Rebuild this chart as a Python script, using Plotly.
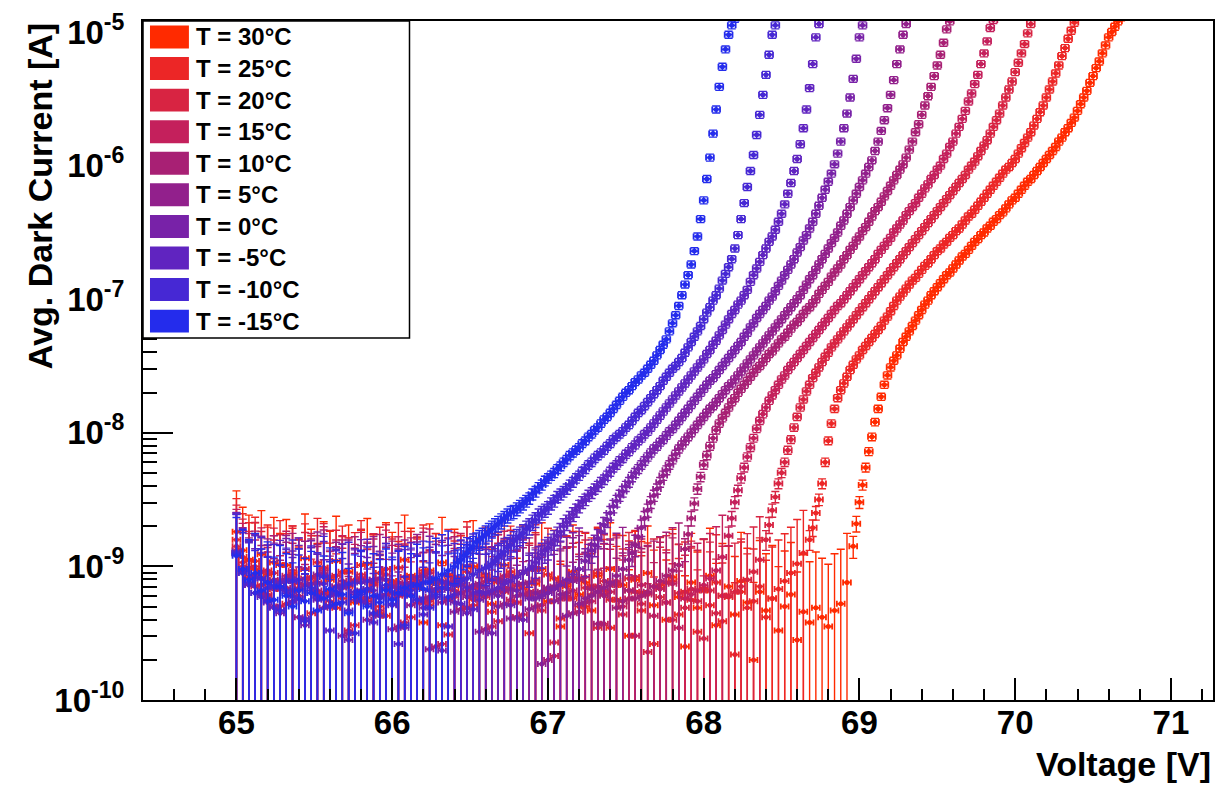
import numpy as np
import plotly.graph_objects as go

# ---------------- data ----------------
LABELS = ["T = 30°C", "T = 25°C", "T = 20°C", "T = 15°C", "T = 10°C",
          "T = 5°C", "T = 0°C", "T = -5°C", "T = -10°C", "T = -15°C"]
COLORS = ["#FF2A00", "#EC2626", "#D82442", "#C4205C", "#A82074",
          "#92208C", "#7822A8", "#6024C0", "#4628D4", "#242CEC"]

V_START = 65.0      # first voltage of every scan [V]
NOISE_STEP = 0.04   # voltage step of the noise-floor values [V]
RISE_STEP = 0.02    # voltage step of the rising values [V]
# voltage where the steady rise (small error bars) begins, per series
RISE_START = [68.96, 68.68, 68.40, 68.16, 67.88, 67.52, 67.24, 66.88, 66.60, 66.40]
NOISE_FLOOR_NA = [0.40, 0.36, 0.33, 0.30, 0.27, 0.24, 0.22, 0.20, 0.18, 0.16]
NOISE_REL_ERR = 0.8
REL_ERR = 0.06
ABS_ERR_RISE_NA = 0.25
X_ERR = 0.025

# log10 of the average dark current [A]
NOISE_T30 = [-8.74, -8.88, -8.95, -9.02, -8.91, -9.06, -8.97, -9.12, -8.99, -9.05,
             -9.18, -8.94, -9.08, -9.22, -9.01, -9.10, -8.96, -9.15, -9.04, -9.27,
             -9.09, -8.98, -9.13, -9.35, -9.02, -9.11, -9.20, -8.95, -9.07, -9.16,
             -9.42, -9.03, -9.12, -8.97, -9.24, -9.08, -9.14, -9.31, -9.00, -9.19,
             -9.06, -9.28, -9.11, -8.99, -9.17, -9.38, -9.05, -9.22, -9.13, -9.02,
             -9.26, -9.09, -9.45, -9.15, -9.04, -9.21, -9.12, -9.33, -9.07, -9.18,
             -9.02, -9.25, -9.14, -9.52, -9.10, -9.20, -9.05, -9.29, -9.16, -9.40,
             -9.08, -9.23, -9.60, -9.12, -9.31, -9.18, -9.07, -9.44, -9.22, -9.15,
             -9.36, -9.11, -9.27, -9.70, -9.19, -9.33, -9.24, -9.48, -9.30, -9.21,
             -9.55, -9.34, -9.42, -9.31, -9.38, -9.45, -9.33, -9.28, -9.12]
RISE_T30 = [-8.85, -8.68, -8.52, -8.39, -8.26, -8.14, -8.03, -7.92, -7.82, -7.73,
            -7.64, -7.57, -7.51, -7.46, -7.42, -7.37, -7.32, -7.28, -7.24, -7.20,
            -7.16, -7.12, -7.08, -7.04, -7.01, -6.97, -6.94, -6.91, -6.88, -6.85,
            -6.82, -6.80, -6.77, -6.74, -6.71, -6.68, -6.66, -6.63, -6.60, -6.57,
            -6.55, -6.52, -6.50, -6.47, -6.45, -6.42, -6.40, -6.37, -6.35, -6.32,
            -6.29, -6.26, -6.24, -6.21, -6.18, -6.15, -6.12, -6.10, -6.07, -6.04,
            -6.01, -5.98, -5.95, -5.92, -5.89, -5.86, -5.82, -5.79, -5.75, -5.72,
            -5.68, -5.64, -5.59, -5.54, -5.49, -5.44, -5.38, -5.33, -5.27, -5.22,
            -5.16, -5.10, -5.04, -5.00, -4.96, -4.92, -4.89]

NOISE_T25 = [-8.80, -8.93, -9.01, -8.96, -9.09, -9.03, -9.17, -8.99, -9.11, -9.06,
             -9.24, -9.02, -9.13, -8.97, -9.20, -9.08, -9.31, -9.04, -9.15, -9.10,
             -8.99, -9.26, -9.12, -9.05, -9.37, -9.14, -9.01, -9.21, -9.09, -9.16,
             -9.03, -9.29, -9.11, -9.44, -9.07, -9.18, -9.13, -9.00, -9.25, -9.15,
             -9.08, -9.34, -9.12, -9.19, -9.04, -9.27, -9.16, -9.50, -9.10, -9.22,
             -9.06, -9.17, -9.39, -9.13, -9.24, -9.09, -9.30, -9.15, -9.05, -9.21,
             -9.46, -9.12, -9.26, -9.18, -9.08, -9.33, -9.20, -9.58, -9.14, -9.27,
             -9.11, -9.36, -9.19, -9.25, -9.49, -9.16, -9.29, -9.12, -9.41, -9.23,
             -9.66, -9.19, -9.31, -9.26, -9.15, -9.38, -9.24, -9.17, -9.11, -9.05,
             -8.98, -8.90]
RISE_T25 = [-8.80, -8.71, -8.60, -8.50, -8.38, -8.22, -8.06, -7.93, -7.82, -7.74,
            -7.68, -7.63, -7.58, -7.53, -7.49, -7.45, -7.42, -7.38, -7.35, -7.32,
            -7.29, -7.26, -7.23, -7.20, -7.16, -7.13, -7.09, -7.05, -7.01, -6.98,
            -6.95, -6.92, -6.89, -6.86, -6.84, -6.81, -6.78, -6.75, -6.73, -6.70,
            -6.67, -6.64, -6.62, -6.59, -6.57, -6.54, -6.52, -6.49, -6.47, -6.44,
            -6.41, -6.38, -6.36, -6.33, -6.30, -6.27, -6.24, -6.21, -6.18, -6.15,
            -6.12, -6.09, -6.06, -6.03, -6.01, -5.98, -5.95, -5.91, -5.87, -5.83,
            -5.79, -5.75, -5.70, -5.65, -5.60, -5.55, -5.49, -5.43, -5.37, -5.31,
            -5.25, -5.18, -5.12, -5.05, -4.99, -4.93, -4.87]

NOISE_T20 = [-8.85, -8.97, -9.08, -9.00, -9.14, -9.21, -9.05, -9.11, -9.28, -9.03,
             -9.16, -9.09, -9.35, -9.12, -9.01, -9.19, -9.07, -9.24, -9.14, -9.44,
             -9.06, -9.18, -9.10, -9.30, -9.02, -9.15, -9.22, -9.08, -9.38, -9.13,
             -9.05, -9.26, -9.17, -9.11, -9.51, -9.09, -9.20, -9.04, -9.29, -9.15,
             -9.23, -9.10, -9.41, -9.16, -9.07, -9.27, -9.13, -9.19, -9.02, -9.33,
             -9.18, -9.57, -9.12, -9.24, -9.08, -9.30, -9.16, -9.21, -9.46, -9.11,
             -9.25, -9.14, -9.36, -9.09, -9.19, -9.28, -9.64, -9.15, -9.23, -9.12,
             -9.40, -9.20, -9.31, -9.17, -9.26, -9.54, -9.18, -9.35, -9.22, -9.22,
             -9.19, -9.15, -9.10, -9.04, -8.95]
RISE_T20 = [-8.80, -8.69, -8.58, -8.48, -8.38, -8.30, -8.22, -8.13, -8.05, -7.96,
            -7.88, -7.81, -7.75, -7.69, -7.64, -7.59, -7.55, -7.51, -7.47, -7.43,
            -7.40, -7.36, -7.33, -7.30, -7.27, -7.24, -7.21, -7.18, -7.15, -7.12,
            -7.09, -7.06, -7.03, -7.00, -6.97, -6.94, -6.91, -6.88, -6.85, -6.82,
            -6.79, -6.76, -6.73, -6.70, -6.67, -6.64, -6.61, -6.58, -6.55, -6.52,
            -6.49, -6.46, -6.43, -6.40, -6.37, -6.34, -6.31, -6.28, -6.25, -6.22,
            -6.19, -6.16, -6.13, -6.10, -6.07, -6.03, -6.00, -5.97, -5.93, -5.89,
            -5.85, -5.81, -5.76, -5.71, -5.66, -5.61, -5.55, -5.49, -5.43, -5.37,
            -5.30, -5.23, -5.16, -5.09, -5.01, -4.94, -4.88]

NOISE_T15 = [-8.88, -9.00, -9.09, -9.15, -9.04, -9.22, -9.11, -9.30, -9.07, -9.18,
             -9.13, -9.39, -9.09, -9.21, -9.03, -9.26, -9.15, -9.11, -9.48, -9.19,
             -9.08, -9.24, -9.14, -9.33, -9.06, -9.20, -9.12, -9.42, -9.17, -9.10,
             -9.27, -9.05, -9.19, -9.58, -9.13, -9.23, -9.09, -9.31, -9.16, -9.21,
             -9.11, -9.45, -9.18, -9.07, -9.25, -9.14, -9.36, -9.20, -9.10, -9.29,
             -9.16, -9.67, -9.12, -9.22, -9.18, -9.34, -9.08, -9.26, -9.15, -9.43,
             -9.19, -9.11, -9.30, -9.24, -9.52, -9.14, -9.21, -9.37, -9.17, -9.27,
             -9.13, -9.46, -9.24, -9.21, -9.18, -9.14, -9.09, -9.03, -8.93]
RISE_T15 = [-8.77, -8.64, -8.52, -8.43, -8.34, -8.26, -8.18, -8.11, -8.04, -7.97,
            -7.91, -7.86, -7.81, -7.76, -7.72, -7.68, -7.64, -7.60, -7.57, -7.53,
            -7.50, -7.47, -7.44, -7.41, -7.38, -7.35, -7.32, -7.29, -7.26, -7.23,
            -7.20, -7.17, -7.14, -7.11, -7.08, -7.05, -7.03, -7.00, -6.97, -6.94,
            -6.91, -6.88, -6.85, -6.82, -6.79, -6.76, -6.73, -6.70, -6.66, -6.63,
            -6.60, -6.57, -6.54, -6.50, -6.47, -6.44, -6.41, -6.37, -6.34, -6.31,
            -6.28, -6.24, -6.21, -6.17, -6.14, -6.10, -6.07, -6.03, -6.00, -5.95,
            -5.91, -5.86, -5.82, -5.76, -5.71, -5.65, -5.59, -5.52, -5.46, -5.39,
            -5.32, -5.24, -5.16, -5.07, -4.97, -4.91, -4.86]

NOISE_T10 = [-8.90, -9.03, -9.12, -9.06, -9.19, -9.25, -9.10, -9.33, -9.16, -9.08,
             -9.22, -9.41, -9.13, -9.18, -9.05, -9.29, -9.20, -9.14, -9.50, -9.11,
             -9.24, -9.17, -9.36, -9.09, -9.21, -9.15, -9.45, -9.19, -9.12, -9.27,
             -9.07, -9.23, -9.60, -9.16, -9.25, -9.11, -9.32, -9.18, -9.22, -9.13,
             -9.47, -9.20, -9.09, -9.28, -9.17, -9.38, -9.21, -9.12, -9.30, -9.19,
             -9.70, -9.15, -9.24, -9.20, -9.35, -9.10, -9.27, -9.17, -9.43, -9.22,
             -9.14, -9.31, -9.26, -9.18, -9.24, -9.22, -9.19, -9.15, -9.11, -9.07,
             -9.03, -8.99]
RISE_T10 = [-8.87, -8.76, -8.64, -8.53, -8.42, -8.33, -8.24, -8.17, -8.10, -8.04,
            -7.98, -7.93, -7.89, -7.85, -7.81, -7.77, -7.74, -7.70, -7.67, -7.64,
            -7.61, -7.58, -7.55, -7.52, -7.50, -7.47, -7.44, -7.41, -7.39, -7.36,
            -7.33, -7.30, -7.28, -7.25, -7.22, -7.19, -7.17, -7.14, -7.11, -7.08,
            -7.06, -7.03, -7.00, -6.96, -6.93, -6.90, -6.87, -6.83, -6.80, -6.77,
            -6.74, -6.70, -6.67, -6.63, -6.60, -6.56, -6.53, -6.49, -6.46, -6.42,
            -6.38, -6.34, -6.31, -6.27, -6.23, -6.19, -6.15, -6.11, -6.07, -6.03,
            -5.99, -5.94, -5.88, -5.82, -5.75, -5.69, -5.62, -5.55, -5.48, -5.41,
            -5.33, -5.25, -5.17, -5.08, -4.98, -4.92, -4.86]

NOISE_T5 = [-8.91, -9.05, -9.14, -9.08, -9.21, -9.12, -9.30, -9.17, -9.09, -9.26,
            -9.38, -9.14, -9.20, -9.06, -9.31, -9.22, -9.15, -9.52, -9.13, -9.25,
            -9.18, -9.40, -9.10, -9.23, -9.16, -9.47, -9.21, -9.13, -9.29, -9.08,
            -9.24, -9.62, -9.17, -9.27, -9.12, -9.34, -9.20, -9.23, -9.14, -9.49,
            -9.21, -9.10, -9.30, -9.18, -9.39, -9.22, -9.13, -9.32, -9.20, -9.73,
            -9.16, -9.26, -9.21, -9.37, -9.11, -9.28, -9.24, -9.22, -9.19, -9.16,
            -9.12, -9.07, -9.02]
RISE_T5 = [-8.95, -8.90, -8.84, -8.78, -8.71, -8.64, -8.58, -8.52, -8.47, -8.42,
           -8.37, -8.32, -8.28, -8.24, -8.20, -8.16, -8.12, -8.09, -8.06, -8.03,
           -8.00, -7.97, -7.94, -7.91, -7.88, -7.85, -7.82, -7.80, -7.77, -7.74,
           -7.71, -7.68, -7.65, -7.63, -7.60, -7.57, -7.54, -7.51, -7.48, -7.45,
           -7.42, -7.39, -7.36, -7.33, -7.30, -7.27, -7.24, -7.21, -7.18, -7.15,
           -7.12, -7.09, -7.06, -7.03, -7.00, -6.97, -6.93, -6.89, -6.85, -6.82,
           -6.78, -6.74, -6.70, -6.66, -6.62, -6.58, -6.54, -6.50, -6.45, -6.41,
           -6.36, -6.31, -6.26, -6.21, -6.16, -6.11, -6.06, -6.01, -5.96, -5.89,
           -5.82, -5.74, -5.66, -5.57, -5.47, -5.36, -5.24, -5.13, -5.02, -4.94,
           -4.87]

NOISE_T0 = [-8.90, -9.04, -9.13, -9.20, -9.09, -9.27, -9.15, -9.35, -9.11, -9.22,
            -9.17, -9.44, -9.13, -9.25, -9.07, -9.30, -9.19, -9.16, -9.55, -9.21,
            -9.12, -9.28, -9.18, -9.37, -9.10, -9.24, -9.16, -9.46, -9.21, -9.14,
            -9.31, -9.09, -9.23, -9.63, -9.17, -9.27, -9.13, -9.35, -9.20, -9.25,
            -9.15, -9.50, -9.22, -9.11, -9.29, -9.18, -9.40, -9.24, -9.24, -9.22,
            -9.20, -9.17, -9.14, -9.10, -9.06, -9.02]
RISE_T0 = [-8.96, -8.92, -8.88, -8.84, -8.79, -8.74, -8.69, -8.65, -8.60, -8.55,
           -8.51, -8.47, -8.44, -8.40, -8.37, -8.33, -8.30, -8.27, -8.24, -8.21,
           -8.18, -8.15, -8.12, -8.10, -8.07, -8.05, -8.02, -7.99, -7.97, -7.94,
           -7.91, -7.88, -7.85, -7.82, -7.79, -7.76, -7.73, -7.70, -7.67, -7.64,
           -7.61, -7.59, -7.56, -7.53, -7.50, -7.47, -7.44, -7.41, -7.38, -7.35,
           -7.32, -7.28, -7.25, -7.21, -7.18, -7.14, -7.11, -7.08, -7.05, -7.01,
           -6.98, -6.94, -6.90, -6.86, -6.82, -6.78, -6.74, -6.70, -6.65, -6.61,
           -6.56, -6.52, -6.47, -6.42, -6.36, -6.30, -6.24, -6.18, -6.12, -6.06,
           -5.99, -5.91, -5.82, -5.72, -5.61, -5.49, -5.35, -5.20, -5.04, -4.95,
           -4.86]

NOISE_M5 = [-8.89, -9.02, -9.14, -9.08, -9.23, -9.16, -9.31, -9.12, -9.20, -9.27,
            -9.10, -9.39, -9.18, -9.24, -9.13, -9.48, -9.21, -9.15, -9.33, -9.19,
            -9.26, -9.11, -9.42, -9.22, -9.17, -9.29, -9.58, -9.20, -9.14, -9.25,
            -9.36, -9.18, -9.23, -9.12, -9.45, -9.21, -9.28, -9.16, -9.32, -9.19,
            -9.20, -9.18, -9.16, -9.13, -9.11, -9.08, -9.05]
RISE_M5 = [-9.02, -9.00, -8.97, -8.94, -8.91, -8.88, -8.86, -8.83, -8.80, -8.77,
           -8.74, -8.70, -8.67, -8.64, -8.61, -8.58, -8.55, -8.52, -8.50, -8.47,
           -8.45, -8.42, -8.40, -8.37, -8.35, -8.32, -8.29, -8.26, -8.24, -8.21,
           -8.19, -8.16, -8.14, -8.11, -8.09, -8.06, -8.04, -8.01, -7.99, -7.96,
           -7.93, -7.90, -7.87, -7.84, -7.81, -7.78, -7.75, -7.72, -7.69, -7.66,
           -7.63, -7.60, -7.57, -7.54, -7.51, -7.48, -7.45, -7.41, -7.38, -7.34,
           -7.31, -7.27, -7.23, -7.19, -7.15, -7.11, -7.08, -7.04, -7.01, -6.97,
           -6.93, -6.87, -6.82, -6.77, -6.72, -6.67, -6.62, -6.57, -6.53, -6.48,
           -6.42, -6.36, -6.29, -6.21, -6.13, -6.04, -5.95, -5.84, -5.72, -5.58,
           -5.42, -5.24, -5.04, -4.94, -4.86]

NOISE_M10 = [-8.90, -9.05, -9.12, -9.20, -9.09, -9.26, -9.15, -9.33, -9.18, -9.11,
             -9.24, -9.41, -9.16, -9.22, -9.08, -9.30, -9.19, -9.27, -9.13, -9.50,
             -9.21, -9.17, -9.35, -9.24, -9.14, -9.28, -9.20, -9.44, -9.18, -9.25,
             -9.12, -9.31, -9.21, -9.16, -9.23, -9.14, -9.11, -9.09, -9.06, -9.03]
RISE_M10 = [-9.01, -9.00, -8.98, -8.96, -8.93, -8.91, -8.89, -8.86, -8.84, -8.81,
            -8.79, -8.77, -8.75, -8.72, -8.70, -8.67, -8.65, -8.62, -8.60, -8.58,
            -8.56, -8.53, -8.51, -8.48, -8.46, -8.44, -8.42, -8.39, -8.37, -8.34,
            -8.32, -8.29, -8.27, -8.24, -8.22, -8.19, -8.17, -8.15, -8.13, -8.10,
            -8.08, -8.05, -8.03, -8.01, -7.99, -7.96, -7.94, -7.91, -7.88, -7.85,
            -7.83, -7.80, -7.77, -7.74, -7.71, -7.68, -7.65, -7.61, -7.58, -7.55,
            -7.52, -7.50, -7.47, -7.44, -7.40, -7.36, -7.32, -7.28, -7.24, -7.20,
            -7.15, -7.10, -7.06, -7.01, -6.97, -6.92, -6.86, -6.81, -6.76, -6.70,
            -6.62, -6.52, -6.40, -6.28, -6.16, -6.04, -5.92, -5.77, -5.62, -5.47,
            -5.32, -5.17, -5.02, -4.95, -4.88]

NOISE_M15 = [-8.92, -9.02, -9.10, -9.05, -9.18, -9.12, -9.25, -9.15, -9.22, -9.30,
             -9.18, -9.26, -9.20, -9.33, -9.24, -9.17, -9.28, -9.21, -9.35, -9.23,
             -9.19, -9.30, -9.22, -9.27, -9.18, -9.25, -9.20, -9.16, -9.22, -9.14,
             -9.17, -9.12, -9.09, -9.06, -9.03]
RISE_M15 = [-9.00, -8.97, -8.95, -8.92, -8.90, -8.87, -8.85, -8.82, -8.80, -8.78,
            -8.76, -8.74, -8.72, -8.70, -8.68, -8.66, -8.64, -8.62, -8.60, -8.59,
            -8.57, -8.55, -8.53, -8.51, -8.49, -8.46, -8.44, -8.41, -8.39, -8.36,
            -8.34, -8.32, -8.30, -8.27, -8.25, -8.22, -8.20, -8.17, -8.15, -8.13,
            -8.11, -8.08, -8.06, -8.03, -8.01, -7.98, -7.96, -7.93, -7.90, -7.88,
            -7.85, -7.82, -7.79, -7.76, -7.73, -7.70, -7.68, -7.65, -7.62, -7.60,
            -7.57, -7.55, -7.52, -7.49, -7.46, -7.42, -7.38, -7.34, -7.30, -7.24,
            -7.18, -7.12, -7.05, -6.97, -6.89, -6.82, -6.74, -6.64, -6.53, -6.40,
            -6.26, -6.10, -5.94, -5.76, -5.58, -5.41, -5.26, -5.13, -5.02, -4.95,
            -4.90]

NOISE = [NOISE_T30, NOISE_T25, NOISE_T20, NOISE_T15, NOISE_T10,
         NOISE_T5, NOISE_T0, NOISE_M5, NOISE_M10, NOISE_M15]
RISE = [RISE_T30, RISE_T25, RISE_T20, RISE_T15, RISE_T10,
        RISE_T5, RISE_T0, RISE_M5, RISE_M10, RISE_M15]

Y_TICKS = [1e-10, 1e-9, 1e-8, 1e-7, 1e-6, 1e-5]
Y_TICKTEXT = ["10<sup>-10</sup>", "10<sup>-9</sup>", "10<sup>-8</sup>",
              "10<sup>-7</sup>", "10<sup>-6</sup>", "10<sup>-5</sup>"]
X_TICKS = [65, 66, 67, 68, 69, 70, 71]

# ---------------- layout geometry (pixels) ----------------
W, H = 1224, 787
PL, PR, PT, PB = 143, 1215, 19, 700
FONT = "Liberation Sans, Arial, Helvetica, sans-serif"


def fx(x):
    return (x - PL) / (PR - PL)


def fy(y):
    return (PB - y) / (PB - PT)


fig = go.Figure()
for label, color, noise, rise, r0, floor in zip(LABELS, COLORS, NOISE, RISE,
                                                RISE_START, NOISE_FLOOR_NA):
    vn = V_START + NOISE_STEP * np.arange(len(noise))
    vr = r0 + RISE_STEP * np.arange(len(rise))
    i_noise = 10.0 ** np.array(noise)
    i_rise = 10.0 ** np.array(rise)
    err_noise = NOISE_REL_ERR * i_noise + floor * 1e-9
    err_rise = np.sqrt((REL_ERR * i_rise) ** 2 + (ABS_ERR_RISE_NA * 1e-9) ** 2)
    fig.add_trace(go.Scatter(
        x=np.concatenate([vn, vr]),
        y=np.concatenate([i_noise, i_rise]),
        mode="markers",
        name=label,
        showlegend=False,
        marker=dict(color=color, size=5, line=dict(width=0)),
        error_y=dict(type="data", array=np.concatenate([err_noise, err_rise]),
                     color=color, thickness=1.4, width=4),
        error_x=dict(type="constant", value=X_ERR, color=color,
                     thickness=1.8, width=3),
    ))

shapes = []
annotations = []
# legend (ROOT style filled boxes)
shapes.append(dict(type="rect", xref="paper", yref="paper",
                   x0=fx(143), x1=fx(410), y0=fy(337), y1=fy(19),
                   line=dict(color="black", width=1.5), fillcolor="white",
                   layer="above"))
for k, (label, color) in enumerate(zip(LABELS, COLORS)):
    yc = 35.0 + 31.67 * k
    shapes.append(dict(type="rect", xref="paper", yref="paper",
                       x0=fx(150), x1=fx(189), y0=fy(yc + 11.5), y1=fy(yc - 11.5),
                       line=dict(width=0), fillcolor=color, layer="above"))
    annotations.append(dict(text=label, xref="paper", yref="paper",
                            x=fx(194), y=fy(yc), xanchor="left", yanchor="middle",
                            showarrow=False,
                            font=dict(family=FONT, size=24, color="black",
                                      weight="bold")))

annotations.append(dict(text="Avg. Dark Current [A]", xref="paper", yref="paper",
                        x=fx(40), y=1.0, xanchor="center", yanchor="top",
                        textangle=-90, showarrow=False,
                        font=dict(family=FONT, size=34, color="black", weight="bold")))
annotations.append(dict(text="Voltage [V]", xref="paper", yref="paper",
                        x=1.0, y=fy(764), xanchor="right", yanchor="middle",
                        showarrow=False,
                        font=dict(family=FONT, size=34, color="black", weight="bold")))

minor_y = [m * 10.0 ** e for e in range(-10, -4) for m in range(2, 10)]

fig.update_layout(
    width=W, height=H,
    margin=dict(l=PL, r=W - PR, t=PT, b=H - PB, pad=0),
    paper_bgcolor="white", plot_bgcolor="white",
    showlegend=False, hovermode=False,
    shapes=shapes, annotations=annotations,
    xaxis=dict(range=[64.4, 71.27], tickmode="array", tickvals=X_TICKS,
               ticks="inside", ticklen=22, tickwidth=2, tickcolor="black",
               minor=dict(ticks="inside", ticklen=11, tickwidth=1.5,
                          tickcolor="black", dtick=0.2, tick0=0, showgrid=False),
               showgrid=False, zeroline=False, showline=True, mirror=True,
               linecolor="black", linewidth=2, ticklabelstandoff=-8,
               tickfont=dict(family=FONT, size=33, color="black", weight="bold")),
    yaxis=dict(type="log", range=[-10, -4.918], tickmode="array",
               tickvals=Y_TICKS, ticktext=Y_TICKTEXT,
               ticks="inside", ticklen=30, tickwidth=2, tickcolor="black",
               minor=dict(ticks="inside", ticklen=14, tickwidth=1.5,
                          tickcolor="black", tickvals=minor_y, showgrid=False),
               showgrid=False, zeroline=False, showline=True, mirror=True,
               linecolor="black", linewidth=2, ticklabelstandoff=10,
               tickfont=dict(family=FONT, size=33, color="black", weight="bold")),
)

fig.write_html("out.html")
